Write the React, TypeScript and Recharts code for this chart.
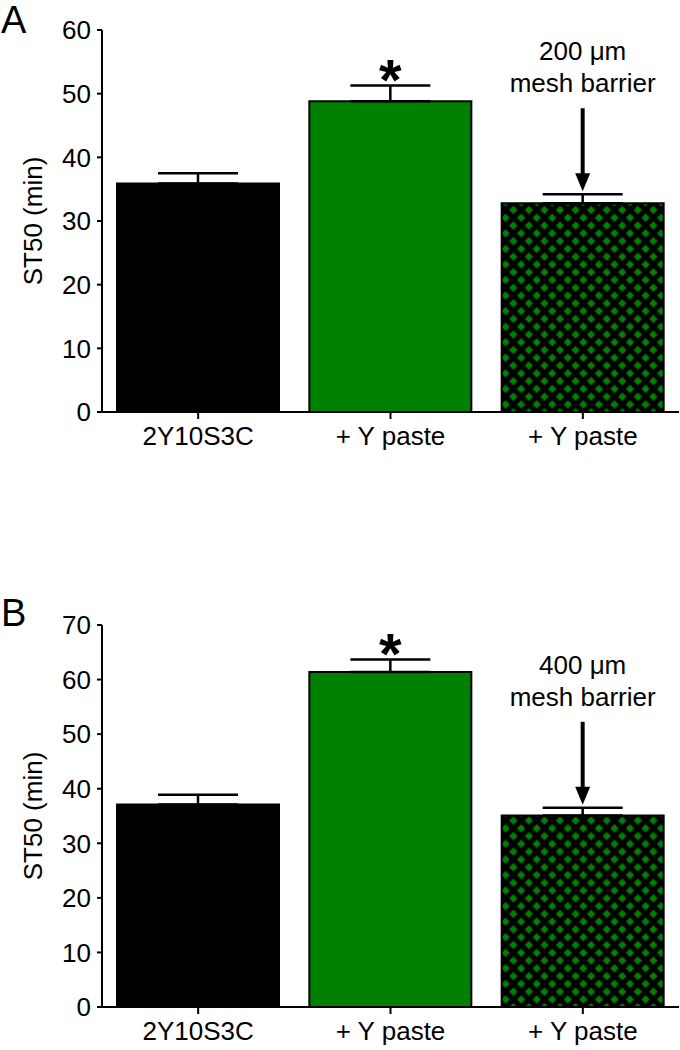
import React from 'react';
import { BarChart, Bar, XAxis, YAxis, ErrorBar, Cell } from 'recharts';

const categories = ['ctrl', 'paste', 'mesh'];
const tickLabels = ['2Y10S3C', '+ Y paste', '+ Y paste'];
const st50A = [35.9, 48.8, 32.8];
const semA = [1.6, 2.5, 1.4];
const st50B = [37.1, 61.4, 35.1];
const semB = [1.8, 2.3, 1.4];
const ticksA = [0, 10, 20, 30, 40, 50, 60];
const ticksB = [0, 10, 20, 30, 40, 50, 60, 70];
const meshLabelA = '200 μm';
const meshLabelB = '400 μm';
const meshLabel2 = 'mesh barrier';

const FONT = '"Liberation Sans", Arial, Helvetica, sans-serif';
const GREEN = '#008000';

const build = (vals: number[], sems: number[]) =>
  categories.map((c, i) => ({ cat: c, value: vals[i], err: [0, sems[i]] }));

function makeLabel(sems: number[], meshText: string) {
  return (props: any) => {
    const { x, y, width, height, value, index } = props;
    const ppu = Number(height) / Number(value);
    const cx = Number(x) + Number(width) / 2;
    const capY = Number(y) - sems[index] * ppu;
    if (index === 1) {
      return (
        <text x={cx} y={capY + 15} textAnchor="middle" fontSize={58} fontWeight="bold" fontFamily={FONT} fill="#000">
          *
        </text>
      );
    }
    if (index === 2) {
      const tip = capY - 3;
      const top = capY - 86;
      return (
        <g>
          <line x1={cx} y1={top} x2={cx} y2={tip - 16} stroke="#000" strokeWidth={4} />
          <polygon points={`${cx - 7.5},${tip - 18} ${cx + 7.5},${tip - 18} ${cx},${tip}`} fill="#000" />
          <text x={cx} y={capY - 134} textAnchor="middle" fontSize={26} fontFamily={FONT} fill="#000">
            {meshText}
          </text>
          <text x={cx} y={capY - 102} textAnchor="middle" fontSize={26} fontFamily={FONT} fill="#000">
            {meshLabel2}
          </text>
        </g>
      );
    }
    return null;
  };
}

const yLabel = (props: any) => {
  const vb = props.viewBox || {};
  const cy = Number(vb.y) + Number(vb.height) / 2;
  const cx = 33;
  return (
    <text x={cx} y={cy} transform={`rotate(-90, ${cx}, ${cy})`} textAnchor="middle" dominantBaseline="central" fontSize={26} fontFamily={FONT} fill="#000">
      ST50 (min)
    </text>
  );
};

function Panel({ vals, sems, ticks, max, meshText, pid }: any) {
  const data = build(vals, sems);
  const fills = ['#000', GREEN, `url(#${pid})`];
  return (
    <BarChart width={680} height={470} data={data} margin={{ top: 30, right: 1, bottom: 8, left: 0 }}>
      <defs>
        <pattern id={pid} width="11" height="11" patternUnits="userSpaceOnUse" patternTransform="rotate(45)">
          <rect x="0" y="0" width="11" height="11" fill="#000" />
          <rect x="2.5" y="2.5" width="6" height="6" fill={GREEN} />
        </pattern>
      </defs>
      <XAxis
        dataKey="cat"
        tickFormatter={(v: string) => tickLabels[categories.indexOf(v)]}
        height={50}
        tickSize={7}
        tickMargin={8}
        stroke="#000"
        strokeWidth={2}
        tick={{ fill: '#000', fontSize: 26, fontFamily: FONT }}
        tickLine={{ stroke: '#000', strokeWidth: 2 }}
        axisLine={{ stroke: '#000', strokeWidth: 2 }}
      />
      <YAxis
        domain={[0, max]}
        ticks={ticks}
        width={102}
        tickSize={5}
        tickMargin={6}
        interval={0}
        stroke="#000"
        tick={{ fill: '#000', fontSize: 26, fontFamily: FONT }}
        tickLine={{ stroke: '#000', strokeWidth: 2 }}
        axisLine={{ stroke: '#000', strokeWidth: 2 }}
        label={yLabel}
      />
      <Bar dataKey="value" barSize={162} stroke="#000" strokeWidth={2} isAnimationActive={false} label={makeLabel(sems, meshText)}>
        {data.map((d, i) => (
          <Cell key={d.cat} fill={fills[i]} />
        ))}
        <ErrorBar dataKey="err" width={40} stroke="#000" strokeWidth={2.5} direction="y" />
      </Bar>
    </BarChart>
  );
}

export default function App() {
  return (
    <div style={{ position: 'absolute', left: 0, top: 0, width: 680, height: 1050, background: '#fff' }}>
      <div style={{ position: 'absolute', left: 0, top: 0 }}>
        <Panel vals={st50A} sems={semA} ticks={ticksA} max={60} meshText={meshLabelA} pid="meshA" />
      </div>
      <div style={{ position: 'absolute', left: 0, top: 595 }}>
        <Panel vals={st50B} sems={semB} ticks={ticksB} max={70} meshText={meshLabelB} pid="meshB" />
      </div>
      <svg width={680} height={1050} style={{ position: 'absolute', left: 0, top: 0, pointerEvents: 'none' }}>
        <text x={1} y={33} fontSize={38} fontFamily={FONT} fill="#000">A</text>
        <text x={1} y={626} fontSize={38} fontFamily={FONT} fill="#000">B</text>
      </svg>
    </div>
  );
}
